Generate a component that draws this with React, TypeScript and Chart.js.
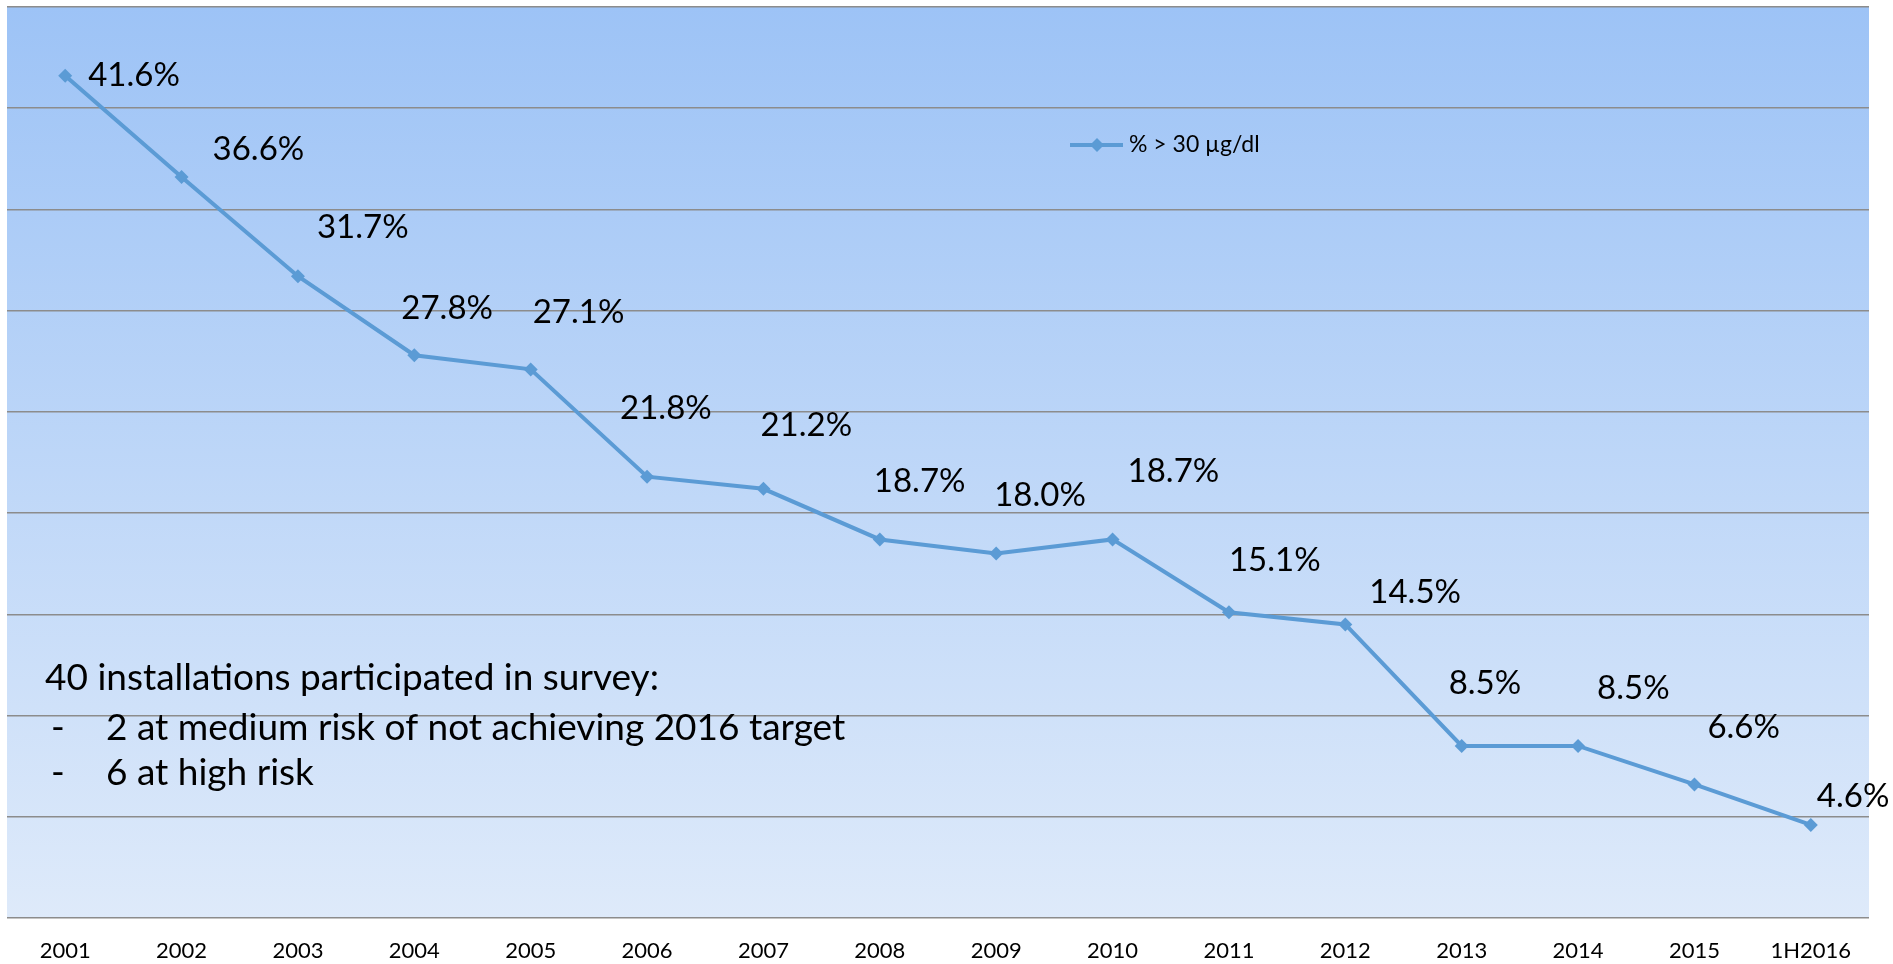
import { useEffect, useRef } from "react";
import { Chart, registerables } from "chart.js";

Chart.register(...registerables);

// ---- data ----
const categories = [
  "2001", "2002", "2003", "2004", "2005", "2006", "2007", "2008",
  "2009", "2010", "2011", "2012", "2013", "2014", "2015", "1H2016",
];
const values = [41.6, 36.6, 31.7, 27.8, 27.1, 21.8, 21.2, 18.7, 18.0, 18.7, 15.1, 14.5, 8.5, 8.5, 6.6, 4.6];
const seriesName = "% > 30 µg/dl";
const yMin = 0;
const yMax = 45;
const yStep = 5;
const noteTitle = "40 installations participated in survey:";
const noteBullets = ["2 at medium risk of not achieving 2016 target", "6 at high risk"];

// ---- layout (label placement, px relative to each point) ----
const labelOffsets: [number, number][] = [
  [23, 0], [31, -28], [19, -49], [-13, -47], [2, -57], [-27, -68], [-3, -63], [-6, -58],
  [-2, -58], [15, -68], [0, -52], [24, -32], [-13, -63], [19, -58], [13, -57], [6, -29],
];

const LINE_COLOR = "#5B9BD5";
const FONT = "Lato";

export default function App() {
  const ref = useRef<HTMLCanvasElement | null>(null);

  useEffect(() => {
    document.body.style.margin = "0";
    const canvas = ref.current;
    if (!canvas) return;

    const bgPlugin = {
      id: "bg",
      beforeDraw(chart: any) {
        const { ctx, chartArea: a } = chart;
        const g = ctx.createLinearGradient(0, a.top, 0, a.bottom);
        g.addColorStop(0, "#9DC3F6");
        g.addColorStop(1, "#DEEAFA");
        ctx.save();
        ctx.fillStyle = g;
        ctx.fillRect(a.left, a.top, a.right - a.left, a.bottom - a.top);
        ctx.restore();
      },
    };

    const labelPlugin = {
      id: "labels",
      afterDatasetsDraw(chart: any) {
        const { ctx } = chart;
        const meta = chart.getDatasetMeta(0);
        ctx.save();
        ctx.font = `33px ${FONT}`;
        ctx.fillStyle = "#000";
        ctx.textAlign = "left";
        ctx.textBaseline = "middle";
        meta.data.forEach((p: any, i: number) => {
          const [dx, dy] = labelOffsets[i] || [20, -40];
          ctx.fillText(values[i].toFixed(1) + "%", p.x + dx, p.y + dy);
        });
        ctx.restore();
      },
    };

    const extrasPlugin = {
      id: "extras",
      afterDraw(chart: any) {
        const { ctx } = chart;
        ctx.save();
        // legend
        const ly = 145;
        ctx.strokeStyle = LINE_COLOR;
        ctx.lineWidth = 4;
        ctx.beginPath();
        ctx.moveTo(1070, ly);
        ctx.lineTo(1123, ly);
        ctx.stroke();
        ctx.fillStyle = LINE_COLOR;
        ctx.beginPath();
        const cx = 1097, r = 7;
        ctx.moveTo(cx, ly - r);
        ctx.lineTo(cx + r, ly);
        ctx.lineTo(cx, ly + r);
        ctx.lineTo(cx - r, ly);
        ctx.closePath();
        ctx.fill();
        ctx.fillStyle = "#000";
        ctx.font = `23px ${FONT}`;
        ctx.textAlign = "left";
        ctx.textBaseline = "middle";
        ctx.fillText(seriesName, 1129, ly);
        // note
        ctx.font = `37px ${FONT}`;
        ctx.fillText(noteTitle, 45, 678);
        noteBullets.forEach((t, i) => {
          const y = 728 + i * 45;
          ctx.fillText("-", 51, y);
          ctx.fillText(t, 106, y);
        });
        ctx.restore();
      },
    };

    const chart = new Chart(canvas, {
      type: "line",
      data: {
        labels: categories,
        datasets: [
          {
            label: seriesName,
            data: values,
            borderColor: LINE_COLOR,
            backgroundColor: LINE_COLOR,
            borderWidth: 4,
            pointStyle: "rectRot",
            pointRadius: 7,
            pointHoverRadius: 7,
            pointBackgroundColor: LINE_COLOR,
            pointBorderColor: LINE_COLOR,
            pointBorderWidth: 0,
            tension: 0,
          },
        ],
      },
      options: {
        animation: false,
        responsive: false,
        maintainAspectRatio: false,
        layout: { padding: { left: 7, right: 24, top: 5, bottom: 0 } },
        plugins: {
          legend: { display: false },
          tooltip: { enabled: false },
        },
        scales: {
          x: {
            offset: true,
            grid: { display: false, drawTicks: false },
            border: { display: false },
            ticks: {
              color: "#000",
              font: { family: FONT, size: 22 },
              padding: 20,
              maxRotation: 0,
              autoSkip: false,
            },
            afterFit(scale: any) {
              scale.height = 46;
            },
          },
          y: {
            min: yMin,
            max: yMax,
            ticks: { stepSize: yStep, display: false },
            grid: { color: "#8c8c8c", lineWidth: 1.5, drawTicks: false },
            border: { display: false },
            afterFit(scale: any) {
              scale.width = 0;
            },
          },
        },
      },
      plugins: [bgPlugin, labelPlugin, extrasPlugin],
    });

    return () => chart.destroy();
  }, []);

  return <canvas ref={ref} width={1893} height={964} style={{ display: "block" }} />;
}
